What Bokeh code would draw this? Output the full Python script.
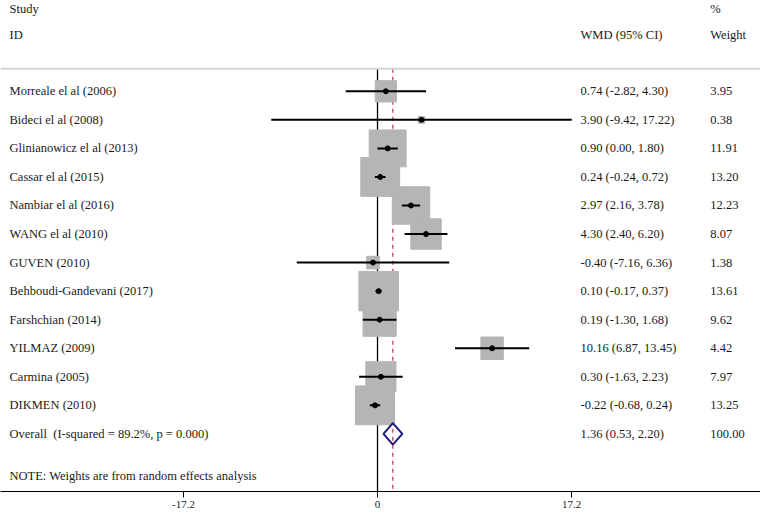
from bokeh.plotting import figure
from bokeh.models import Range1d, FixedTicker, ColumnDataSource, Span, LinearAxis
from bokeh.core.properties import value
from bokeh.embed import file_html
from bokeh.resources import INLINE
import math

studies = ["Morreale el al (2006)", "Bideci el al (2008)", "Glinianowicz el al (2013)",
           "Cassar el al (2015)", "Nambiar el al (2016)", "WANG el al (2010)",
           "GUVEN (2010)", "Behboudi-Gandevani (2017)", "Farshchian (2014)",
           "YILMAZ (2009)", "Carmina (2005)", "DIKMEN (2010)"]
wmd = [0.74, 3.90, 0.90, 0.24, 2.97, 4.30, -0.40, 0.10, 0.19, 10.16, 0.30, -0.22]
ci_lo = [-2.82, -9.42, 0.00, -0.24, 2.16, 2.40, -7.16, -0.17, -1.30, 6.87, -1.63, -0.68]
ci_hi = [4.30, 17.22, 1.80, 0.72, 3.78, 6.20, 6.36, 0.37, 1.68, 13.45, 2.23, 0.24]
weights = [3.95, 0.38, 11.91, 13.20, 12.23, 8.07, 1.38, 13.61, 9.62, 4.42, 7.97, 13.25]

overall_label = "Overall\u00a0 (I-squared = 89.2%, p = 0.000)"
overall_wmd = 1.36
overall_lo = 0.53
overall_hi = 2.20
overall_weight = 100.00

note = "NOTE: Weights are from random effects analysis"
tick_values = [-17.2, 0, 17.2]
tick_labels = {-17.2: "-17.2", 0: "0", 17.2: "17.2"}

FONT = "Liberation Serif"
TXT = "#1a1a1a"

W, H = 760, 510
top = -93 / 29.25
bottom = (503 - 93) / 29.25

p = figure(width=W, height=H, output_backend="svg", toolbar_location=None,
           x_range=Range1d(-33.42, 33.95), y_range=Range1d(bottom, top),
           x_axis_location=None, y_axis_location=None, min_border=0)
p.outline_line_color = None
p.grid.visible = False
p.background_fill_color = "white"

xaxis = LinearAxis(ticker=FixedTicker(ticks=tick_values))
xaxis.major_label_overrides = tick_labels
xaxis.axis_line_color = "black"
xaxis.axis_line_width = 1.2
xaxis.major_tick_line_color = "black"
xaxis.major_tick_out = 6
xaxis.major_tick_in = 0
xaxis.minor_tick_line_color = None
xaxis.major_label_standoff = 3
xaxis.major_label_text_font = FONT
xaxis.major_label_text_font_size = "11px"
xaxis.major_label_text_color = TXT
p.add_layout(xaxis, "below")

n = len(studies)
ys = list(range(n))
sep_y = -0.786
overall_y = n

p.add_layout(Span(location=sep_y, dimension="width", line_color="#d4d4d4", line_width=2))

# zero line and overall dashed line
p.segment(x0=[0], y0=[sep_y], x1=[0], y1=[bottom], line_color="black", line_width=1.3)
p.segment(x0=[overall_wmd], y0=[sep_y], x1=[overall_wmd], y1=[bottom],
          line_color="#c0304a", line_width=1.2, line_dash="4 4")

src = ColumnDataSource(dict(y=ys, wmd=wmd, lo=ci_lo, hi=ci_hi,
                            size=[10.7 * math.sqrt(w) for w in weights]))
p.scatter("wmd", "y", source=src, marker="square", size="size",
          fill_color="#b5b5b5", line_color="#b5b5b5")
p.segment("lo", "y", "hi", "y", source=src, line_color="black", line_width=2)
p.scatter("wmd", "y", source=src, marker="circle", size=5, fill_color="black", line_color="black")

h = 11 / 29.25
p.patch(x=[overall_lo, overall_wmd, overall_hi, overall_wmd],
        y=[overall_y, overall_y - h, overall_y, overall_y + h],
        fill_color=None, line_color="#1c1c80", line_width=2)

# text columns
x_name = -32.62
x_wmd = 18.0
x_wt = 29.5
name_y = ys + [overall_y, 13.47]
names = studies + [overall_label, note]
wmd_txt = ["%.2f (%.2f, %.2f)" % (a, b, c) for a, b, c in zip(wmd, ci_lo, ci_hi)] + \
          ["%.2f (%.2f, %.2f)" % (overall_wmd, overall_lo, overall_hi)]
wt_txt = ["%.2f" % w for w in weights] + ["%.2f" % overall_weight]

common = dict(text_font=value(FONT), text_font_size="12.5px", text_color=TXT,
              text_baseline="middle", text_align="left")
p.text(x=[x_name] * len(names), y=name_y, text=names, **common)
p.text(x=[x_wmd] * len(wmd_txt), y=ys + [overall_y], text=wmd_txt, **common)
p.text(x=[x_wt] * len(wt_txt), y=ys + [overall_y], text=wt_txt, **common)
p.text(x=[x_name, x_name, x_wmd, x_wt, x_wt], y=[-2.87, -1.98, -1.98, -2.87, -1.98],
       text=["Study", "ID", "WMD (95% CI)", "%", "Weight"], **common)

open("out.html", "w").write(file_html(p, INLINE))
